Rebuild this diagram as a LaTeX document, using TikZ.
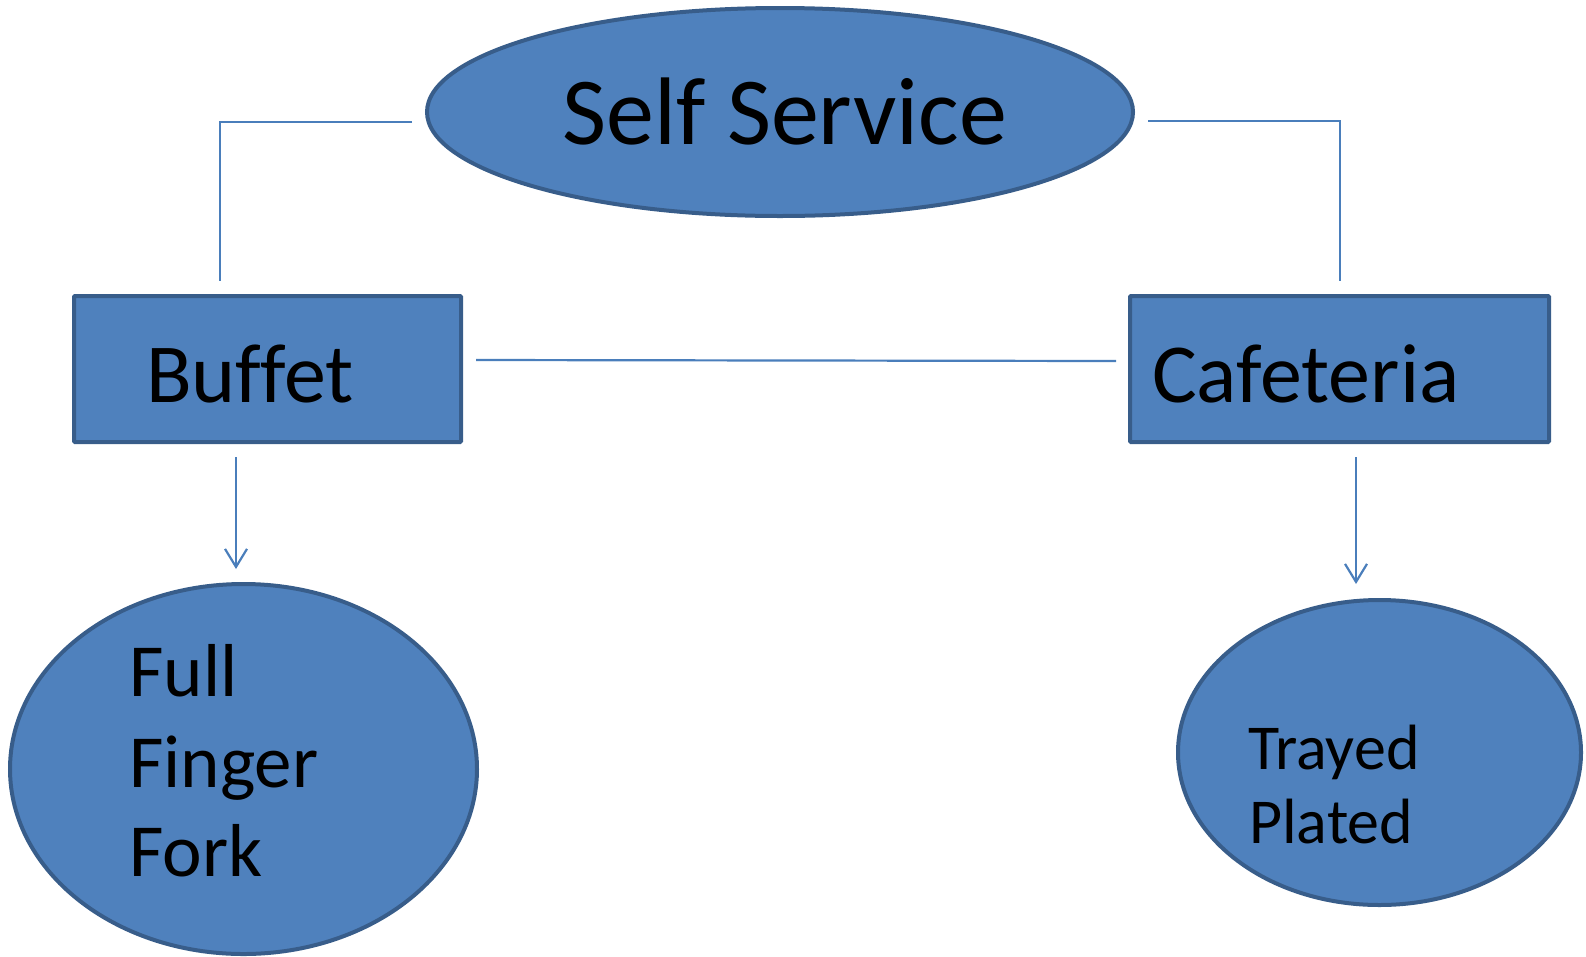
\documentclass[tikz,border=0pt]{standalone}
\usepackage{fontspec}
\setmainfont[Ligatures=NoCommon]{Carlito}
\usetikzlibrary{shapes.geometric,arrows.meta}
\definecolor{fillblue}{HTML}{4F81BD}
\definecolor{edgeblue}{HTML}{385D8A}
\definecolor{linkblue}{HTML}{4A7EBB}
\begin{document}
\begin{tikzpicture}[x=1pt,y=-1pt,
  shapebox/.style={draw=edgeblue,fill=fillblue,line width=4pt,inner sep=0pt},
  ovalbox/.style={shapebox,ellipse},
  rectbox/.style={shapebox,rectangle,rounded corners=1pt},
  link/.style={draw=linkblue,line width=2.2pt},
  arrowlink/.style={link,-{Straight Barb[length=18pt,width=22pt,line width=2.2pt]}},
  txt/.style={anchor=base west,inner sep=0pt,text=black}]
\useasboundingbox (0,0) rectangle (1586,956);
% shapes
\node[ovalbox,minimum width=706pt,minimum height=208pt] (self) at (780,112) {};
\node[rectbox,minimum width=387pt,minimum height=146pt] (buffet) at (267.5,369) {};
\node[rectbox,minimum width=419pt,minimum height=146pt] (cafe) at (1339.5,369) {};
\node[ovalbox,minimum width=467pt,minimum height=370pt] (bufoval) at (243.5,769) {};
\node[ovalbox,minimum width=403pt,minimum height=305pt] (cafeoval) at (1379.5,752.5) {};
% texts
\node[txt,font=\fontsize{96}{112}\selectfont] (selft) at (562,144) {Self Service};
\node[txt,font=\fontsize{84}{100}\selectfont] (buft) at (146,402) {Buffet};
\node[txt,font=\fontsize{84}{100}\selectfont] (cafet) at (1152,402) {Cafeteria};
\node[txt,font=\fontsize{75}{90}\selectfont] (full) at (129,696) {Full};
\node[txt,font=\fontsize{75}{90}\selectfont] (finger) at (129,787) {Finger};
\node[txt,font=\fontsize{75}{90}\selectfont] (fork) at (129,876) {Fork};
\node[txt,font=\fontsize{64}{78}\selectfont] (trayed) at (1248,769) {Trayed};
\node[txt,font=\fontsize{64}{78}\selectfont] (plated) at (1249,843) {Plated};
% connector ends
\coordinate (c1) at (412,122);
\coordinate (c1b) at (220,122);
\coordinate (c1c) at (220,281);
\coordinate (c2) at (1148,121);
\coordinate (c2b) at (1340,121);
\coordinate (c2c) at (1340,281);
\coordinate (m1) at (476,360);
\coordinate (m2) at (1116,361);
\coordinate (a1) at (236,457);
\coordinate (a1e) at (236,569);
\coordinate (a2) at (1356,457);
\coordinate (a2e) at (1356,584);
% connectors
\draw[link] (c1) -- (c1b) -- (c1c);
\draw[link] (c2) -- (c2b) -- (c2c);
\draw[link] (m1) -- (m2);
\draw[arrowlink] (a1) -- (a1e);
\draw[arrowlink] (a2) -- (a2e);
\end{tikzpicture}
\end{document}
